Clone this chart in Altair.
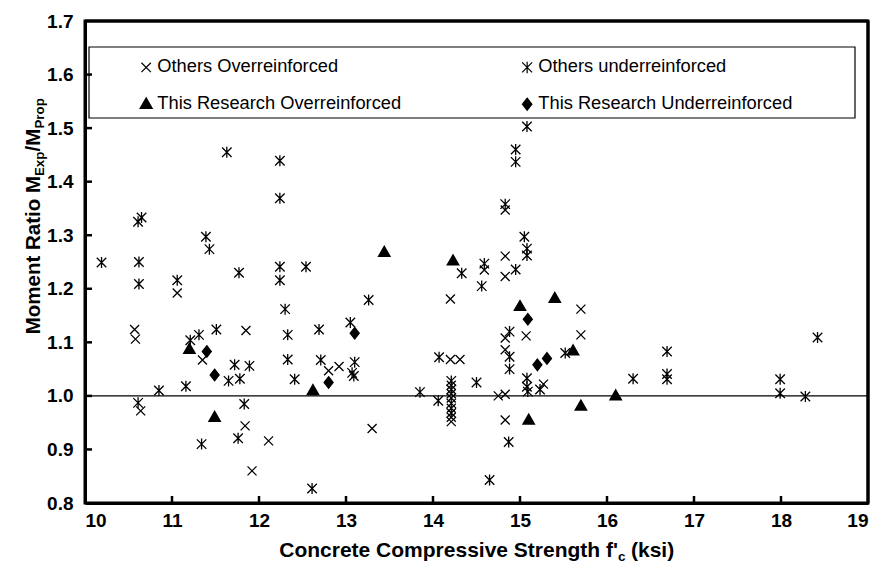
import altair as alt
import pandas as pd

# ---- data: concrete strength f'c (ksi) vs. moment ratio M_Exp / M_Prop ----
# Other researchers, over-reinforced sections
oo_fc = [10.57, 10.58, 10.64, 11.06, 11.35, 11.85, 11.84, 12.11, 11.92, 12.80,
         12.92, 13.30, 14.20, 14.31, 14.21, 14.21, 14.21, 14.21, 14.21, 14.21,
         14.20, 14.59, 14.83, 14.83, 14.83, 14.83, 14.83, 15.07, 15.70, 15.70,
         15.27, 14.75, 14.83, 14.83]
oo_ratio = [1.124, 1.106, 0.972, 1.192, 1.067, 1.122, 0.944, 0.916, 0.860, 1.047,
            1.055, 0.939, 1.068, 1.068, 1.020, 1.004, 0.996, 0.977, 0.960, 0.952,
            1.181, 1.235, 1.261, 1.223, 1.347, 1.108, 1.086, 1.112, 1.162, 1.114,
            1.022, 1.000, 1.003, 0.955]

# Other researchers, under-reinforced sections
ou_fc = [10.19, 10.62, 10.61, 10.65, 10.62, 11.06, 11.39, 11.43, 11.63, 11.77,
         12.24, 12.24, 12.24, 12.54, 12.24, 12.30, 12.33, 12.69, 12.33, 12.71,
         13.05, 13.10, 13.07, 13.09, 12.61, 13.26, 13.85, 14.07, 14.06, 14.21,
         14.21, 14.21, 14.21, 14.50, 14.65, 14.33, 14.59, 14.56, 14.95, 14.88,
         14.88, 14.88, 15.08, 15.08, 15.09, 15.23, 14.87, 15.08, 14.95, 14.95,
         14.83, 15.05, 15.08, 15.08, 15.52, 16.30, 16.69, 16.69, 16.69, 17.99,
         17.99, 18.28, 18.42, 11.21, 11.31, 11.51, 11.72, 11.89, 11.65, 11.78,
         12.41, 11.16, 10.85, 10.61, 11.83, 11.34, 11.76]
ou_ratio = [1.249, 1.250, 1.325, 1.333, 1.209, 1.216, 1.297, 1.274, 1.455, 1.230,
            1.439, 1.369, 1.241, 1.241, 1.216, 1.162, 1.114, 1.124, 1.068, 1.067,
            1.137, 1.063, 1.043, 1.037, 0.827, 1.179, 1.007, 1.072, 0.991, 1.028,
            1.012, 0.986, 0.968, 1.025, 0.843, 1.229, 1.247, 1.205, 1.236, 1.120,
            1.073, 1.050, 1.033, 1.017, 1.008, 1.012, 0.914, 1.503, 1.460, 1.437,
            1.358, 1.297, 1.275, 1.262, 1.080, 1.032, 1.083, 1.041, 1.031, 1.031,
            1.005, 0.999, 1.109, 1.104, 1.114, 1.124, 1.058, 1.056, 1.028, 1.032,
            1.031, 1.018, 1.010, 0.987, 0.985, 0.910, 0.921]

# This research, over-reinforced beams
ro_fc = [11.20, 11.49, 12.62, 13.44, 14.23, 15.00, 15.10, 15.40, 15.61, 15.70, 16.10]
ro_ratio = [1.087, 0.960, 1.010, 1.268, 1.252, 1.167, 0.955, 1.182, 1.084, 0.981, 1.000]

# This research, under-reinforced beams
ru_fc = [11.40, 11.49, 12.80, 13.10, 15.09, 15.20, 15.31]
ru_ratio = [1.083, 1.039, 1.025, 1.117, 1.143, 1.058, 1.070]

series_names = ["Others Overreinforced", "Others underreinforced",
                "This Research Overreinforced", "This Research Underreinforced"]

x_ticks = [11, 12, 13, 14, 15, 16, 17, 18]
y_ticks = [0.9, 1.0, 1.1, 1.2, 1.3, 1.4, 1.5, 1.6]
unity = [1.0]

frames = []
for name, xs, ys in zip(series_names,
                        [oo_fc, ou_fc, ro_fc, ru_fc],
                        [oo_ratio, ou_ratio, ro_ratio, ru_ratio]):
    frames.append(pd.DataFrame({"fc": xs, "ratio": ys, "series": name}))
points_df = pd.concat(frames, ignore_index=True)

# ---- geometry / styling ----
W, H = 783, 482
FONT = "Liberation Sans"

# marker outlines (unit paths, scaled by the symbol size)
X_SHAPE = "M-0.9,-0.9L0.9,0.9M-0.9,0.9L0.9,-0.9"
ZH_SHAPE = "M-0.95,-0.95L0.95,0.95M-0.95,0.95L0.95,-0.95M0,-1.1L0,1.1"
TRI_SHAPE = "M0,-1.2L1.15,0.8L-1.15,0.8Z"
DIA_SHAPE = "M0,-1.15L0.9,0L0,1.15L-0.9,0Z"

x_scale = alt.Scale(domain=[10, 19], nice=False, zero=False)
y_scale = alt.Scale(domain=[0.8, 1.7], nice=False, zero=False)
ink = alt.Scale(domain=series_names, range=["black", "black", "black", "black"])

# legend frame
legend_box = alt.Chart(pd.DataFrame({"k": [0]})).mark_rect(
    fill="white", stroke="black", strokeWidth=1.2
).encode(x=alt.value(4), x2=alt.value(770), y=alt.value(26), y2=alt.value(97))

# top and right edges of the plot frame
frame_top = alt.Chart(pd.DataFrame({"k": [0]})).mark_rule(
    color="black", strokeWidth=3
).encode(x=alt.value(0), x2=alt.value(W), y=alt.value(0))
frame_right = alt.Chart(pd.DataFrame({"k": [0]})).mark_rule(
    color="black", strokeWidth=3
).encode(x=alt.value(W), y=alt.value(0), y2=alt.value(H))

unity_line = alt.Chart(pd.DataFrame({"u": unity})).mark_rule(
    color="black", strokeWidth=1.4
).encode(y=alt.Y("u:Q", scale=y_scale, title=None))

legend = alt.Legend(
    title=None, orient="none", legendX=52, legendY=37, direction="horizontal",
    columns=2, columnPadding=116, rowPadding=18,
    labelFont=FONT, labelFontSize=18.3, labelColor="black", labelOffset=2,
    labelLimit=400, symbolSize=110, symbolStrokeWidth=1.2,
    symbolStrokeColor="black", symbolOpacity=1, padding=0,
)

points = alt.Chart(points_df).mark_point(
    filled=False, color="black", strokeWidth=1.3, opacity=1, size=100
).encode(
    x=alt.X("fc:Q", scale=x_scale,
            axis=alt.Axis(values=list(range(10, 20)), format="d", title=None,
                          domain=True, domainColor="black", domainWidth=3,
                          ticks=False, grid=False,
                          labelFont=FONT, labelFontSize=19, labelFontWeight="bold",
                          labelColor="black", labelPadding=8)),
    y=alt.Y("ratio:Q", scale=y_scale,
            axis=alt.Axis(values=[0.8, 0.9, 1.0, 1.1, 1.2, 1.3, 1.4, 1.5, 1.6, 1.7],
                          format=".1f", title=None,
                          domain=True, domainColor="black", domainWidth=3,
                          ticks=False, grid=False, labelFont=FONT, labelFontSize=19,
                          labelFontWeight="bold", labelColor="black",
                          labelPadding=12)),
    shape=alt.Shape("series:N",
                    scale=alt.Scale(domain=series_names,
                                    range=[X_SHAPE, ZH_SHAPE, TRI_SHAPE, DIA_SHAPE]),
                    legend=legend),
    fill=alt.Fill("series:N", scale=ink, legend=legend),
    stroke=alt.Stroke("series:N", scale=ink, legend=legend),
)

x_tick_marks = alt.Chart(pd.DataFrame({"t": x_ticks})).mark_rule(
    color="black", strokeWidth=2.5
).encode(x=alt.X("t:Q", scale=x_scale, title=None),
         y=alt.value(H - 7), y2=alt.value(H))

y_tick_marks = alt.Chart(pd.DataFrame({"t": y_ticks})).mark_rule(
    color="black", strokeWidth=2.5
).encode(y=alt.Y("t:Q", scale=y_scale, title=None),
         x=alt.value(0), x2=alt.value(7))

# axis titles with subscripts, built from text pieces
def text_piece(txt, x, y, size, align, angle=0, baseline="alphabetic"):
    return alt.Chart(pd.DataFrame({"s": [txt]})).mark_text(
        font=FONT, fontSize=size, fontWeight="bold", color="black",
        align=align, baseline=baseline, angle=angle
    ).encode(text="s:N", x=alt.value(x), y=alt.value(y))

XT_Y = 536
x_title = [
    text_piece("Concrete Compressive Strength f'", 533, XT_Y, 21, "right"),
    text_piece("c", 533, XT_Y + 4, 13.5, "left"),
    text_piece("(ksi)", 546, XT_Y, 21, "left"),
]

YT_X = -45
y_title = [
    text_piece("Moment Ratio M", YT_X, 155, 20.5, "right", angle=270),
    text_piece("Exp", YT_X + 4, 155, 13.3, "left", angle=270),
    text_piece("/M", YT_X, 130.5, 20.5, "left", angle=270),
    text_piece("Prop", YT_X + 4, 107.5, 13.3, "left", angle=270),
]

chart = alt.layer(
    points, legend_box, unity_line, x_tick_marks, y_tick_marks,
    frame_top, frame_right, *x_title, *y_title
).properties(
    width=W, height=H,
    autosize=alt.AutoSizeParams(type="none"),
    padding={"left": 85, "top": 21, "right": 12, "bottom": 64},
).configure(
    background="white"
).configure_view(
    stroke="black", strokeWidth=3, strokeOpacity=1
)

chart.save("out.html", embed_options={"renderer": "svg", "actions": False})
